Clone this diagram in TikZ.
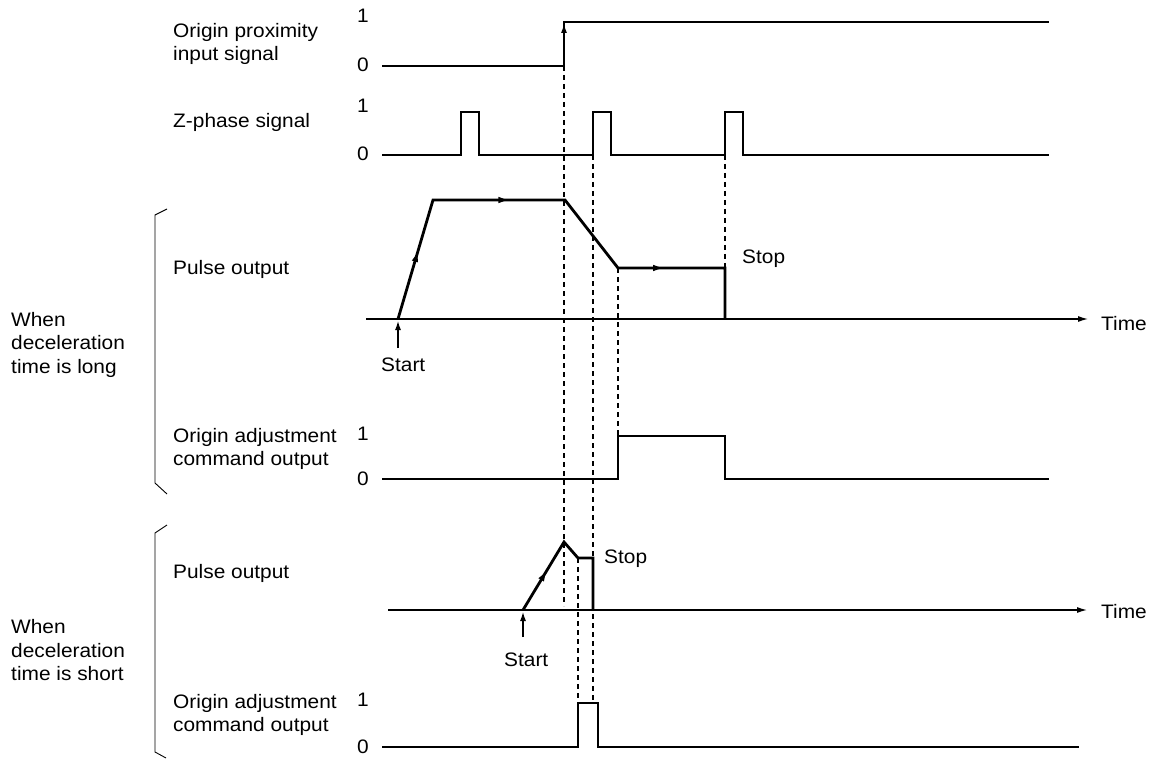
\documentclass[tikz,border=0pt]{standalone}
\usepackage{fontspec}
\setmainfont{Liberation Sans}[FakeStretch=1.07]
\usetikzlibrary{arrows.meta,decorations.markings}
\begin{document}
\begin{tikzpicture}[x=1pt,y=-1pt,
  sig/.style={line width=2.8pt,line join=miter},
  axisline/.style={line width=1.2pt,-{Latex[length=10pt,width=6pt]}},
  startarrow/.style={line width=1.2pt,-{Latex[length=9pt,width=6pt]}},
  guide/.style={line width=1.1pt,dash pattern=on 5pt off 4pt},
  bracketline/.style={line width=0.9pt},
  lbl/.style={font=\fontsize{19.5}{23}\selectfont,inner sep=0pt,anchor=base west},
  digit/.style={font=\fontsize{19.5}{23}\selectfont,inner sep=0pt,anchor=base},
  midarrow/.style={postaction={decorate,decoration={markings,
     mark=at position #1 with {\fill (4pt,0) -- (-4.5pt,3.2pt) -- (-4.5pt,-3.2pt) -- cycle;}}}},
]
\useasboundingbox (0,0) rectangle (1153,759);

% ---------- labels ----------
\node[lbl] (op1) at (173,38) {Origin proximity};
\node[lbl] (op2) at (173,61) {input signal};
\node[lbl] (zp) at (173,128) {Z-phase signal};
\node[lbl] (po1) at (173,275) {Pulse output};
\node[lbl] (wl1) at (11,326) {When};
\node[lbl] (wl2) at (11,349) {deceleration};
\node[lbl] (wl3) at (11,373) {time is long};
\node[lbl] (oa1) at (173,442) {Origin adjustment};
\node[lbl] (oa2) at (173,465) {command output};
\node[lbl] (po2) at (173,578) {Pulse output};
\node[lbl] (ws1) at (11,633) {When};
\node[lbl] (ws2) at (11,657) {deceleration};
\node[lbl] (ws3) at (11,680) {time is short};
\node[lbl] (ob1) at (173,708) {Origin adjustment};
\node[lbl] (ob2) at (173,731) {command output};

\node[digit] (d1a) at (363,23) {1};
\node[digit] (d0a) at (363,72) {0};
\node[digit] (d1b) at (363,113) {1};
\node[digit] (d0b) at (363,161) {0};
\node[digit] (d1c) at (363,440) {1};
\node[digit] (d0c) at (363,485) {0};
\node[digit] (d1d) at (363,706) {1};
\node[digit] (d0d) at (363,753) {0};

\node[lbl] (stopL) at (742,264) {Stop};
\node[lbl] (timeL) at (1101,330) {Time};
\node[lbl] (startL) at (381,371) {Start};
\node[lbl] (stopS) at (604,563) {Stop};
\node[lbl] (timeS) at (1101,618) {Time};
\node[lbl] (startS) at (504,666) {Start};

% ---------- brackets ----------
\coordinate (bl1) at (167,209); \coordinate (bl2) at (155,215);
\coordinate (bl3) at (155,483); \coordinate (bl4) at (167,494);
\draw[bracketline] (bl1) -- (bl2) -- (bl3) -- (bl4);
\coordinate (bs1) at (167,525); \coordinate (bs2) at (155,533);
\coordinate (bs3) at (155,752); \coordinate (bs4) at (166,758);
\draw[bracketline] (bs1) -- (bs2) -- (bs3) -- (bs4);

% ---------- origin proximity ----------
\coordinate (opA) at (382,66); \coordinate (op0) at (564,66);
\coordinate (opH) at (564,22); \coordinate (opB) at (1049,22);
\coordinate (opTip) at (564,24);
\draw[sig] (opA) -- (op0) -- (opH) -- (opB);
\draw[line width=1pt,-{Latex[length=9pt,width=6pt]}] (op0) -- (opTip);

% ---------- Z-phase ----------
\coordinate (zA) at (382,155); \coordinate (zB) at (1049,155);
\coordinate (z1) at (461,155); \coordinate (z1t) at (461,112);
\coordinate (z2t) at (479,112); \coordinate (z2) at (479,155);
\coordinate (z3) at (593,155); \coordinate (z3t) at (593,112);
\coordinate (z4t) at (611,112); \coordinate (z4) at (611,155);
\coordinate (z5) at (725,155); \coordinate (z5t) at (725,112);
\coordinate (z6t) at (743,112); \coordinate (z6) at (743,155);
\draw[sig] (zA) -- (z1) -- (z1t) -- (z2t) -- (z2) -- (z3) -- (z3t) -- (z4t)
  -- (z4) -- (z5) -- (z5t) -- (z6t) -- (z6) -- (zB);

% ---------- long pulse output ----------
\coordinate (axL0) at (366,319); \coordinate (axL1) at (1088,319);
\draw[axisline] (axL0) -- (axL1);
\coordinate (pl0) at (398,319); \coordinate (pl1) at (433,200);
\coordinate (pl2) at (565,200); \coordinate (pl3) at (618,268);
\coordinate (pl4) at (725,268); \coordinate (pl5) at (725,319);
\draw[sig] (pl0) -- (pl1) -- (pl2) -- (pl3) -- (pl4) -- (pl5);
\path[midarrow=0.52] (pl0) -- (pl1);
\path[midarrow=0.53] (pl1) -- (pl2);
\path[midarrow=0.37] (pl3) -- (pl4);
\coordinate (slA) at (398,348); \coordinate (slB) at (398,321);
\draw[startarrow] (slA) -- (slB);

% ---------- long origin adjustment ----------
\coordinate (oaA) at (382,479); \coordinate (oa1p) at (618,479);
\coordinate (oa1t) at (618,436); \coordinate (oa2t) at (725,436);
\coordinate (oa2p) at (725,479); \coordinate (oaB) at (1049,479);
\draw[sig] (oaA) -- (oa1p) -- (oa1t) -- (oa2t) -- (oa2p) -- (oaB);

% ---------- short pulse output ----------
\coordinate (axS0) at (388,610); \coordinate (axS1) at (1087,610);
\draw[axisline] (axS0) -- (axS1);
\coordinate (ps0) at (523,610); \coordinate (ps1) at (564,542);
\coordinate (ps2) at (578,558); \coordinate (ps3) at (593,558);
\coordinate (ps4) at (593,610);
\draw[sig] (ps0) -- (ps1) -- (ps2) -- (ps3) -- (ps4);
\path[midarrow=0.5] (ps0) -- (ps1);
\coordinate (ssA) at (523,637); \coordinate (ssB) at (523,612);
\draw[startarrow] (ssA) -- (ssB);

% ---------- short origin adjustment ----------
\coordinate (obA) at (382,747); \coordinate (ob1p) at (578,747);
\coordinate (ob1t) at (578,703); \coordinate (ob2t) at (598,703);
\coordinate (ob2p) at (598,747); \coordinate (obB) at (1079,747);
\draw[sig] (obA) -- (ob1p) -- (ob1t) -- (ob2t) -- (ob2p) -- (obB);

% ---------- dashed guides ----------
\coordinate (g1b) at (564,606);
\draw[guide] (op0) -- (g1b);
\coordinate (g2b) at (593,703);
\draw[guide] (z3) -- (g2b);
\draw[guide] (pl3) -- (oa1t);
\draw[guide] (z5) -- (pl4);
\draw[guide] (ps2) -- (ob1t);
\end{tikzpicture}
\end{document}
